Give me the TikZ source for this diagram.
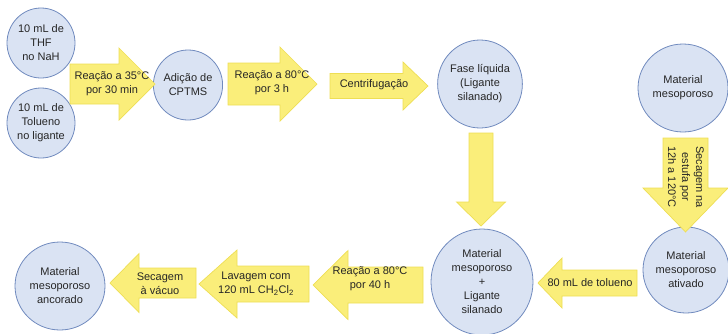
\documentclass[tikz,border=0pt]{standalone}
\usepackage{fontspec}
\setmainfont{Liberation Sans}
\definecolor{stagefill}{RGB}{218, 227, 243}
\definecolor{stageedge}{RGB}{112, 138, 190}
\definecolor{arrowfill}{RGB}{250, 238, 122}
\definecolor{arrowedge}{RGB}{238, 222, 84}
\definecolor{labeltext}{RGB}{38, 38, 38}
\usetikzlibrary{shapes.geometric}

% block arrows: tail, head base, tip, centre line, body half width, head half width
\newcommand{\hblock}[6]{%
  \filldraw[flowarrow] (#1,#4-#5) -- (#2,#4-#5) -- (#2,#4-#6) -- (#3,#4)
    -- (#2,#4+#6) -- (#2,#4+#5) -- (#1,#4+#5) -- cycle;}
\newcommand{\vblock}[6]{%
  \filldraw[flowarrow] (#4-#5,#1) -- (#4-#5,#2) -- (#4-#6,#2) -- (#4,#3)
    -- (#4+#6,#2) -- (#4+#5,#2) -- (#4+#5,#1) -- cycle;}

\begin{document}
\begin{tikzpicture}[x=1pt, y=-1pt,
    stage/.style={ellipse, draw=stageedge, fill=stagefill, line width=0.8pt,
      inner sep=0pt, align=center, text=labeltext, font=\fontsize{11}{14}\selectfont},
    flowarrow/.style={fill=arrowfill, draw=arrowedge, line width=0.7pt},
    steplabel/.style={align=center, inner sep=0pt, text=labeltext,
      font=\fontsize{11}{14}\selectfont}]
                \useasboundingbox (0,0) rectangle (728,333);
                \clip (0,0) rectangle (728,333);

                % Stages
                \node[stage, minimum width=68, minimum height=70] (thf) at (41,43) {10 mL de\\THF\\no NaH};
                \node[stage, minimum width=68, minimum height=70] (tol) at (41,123) {10 mL de\\Tolueno\\no ligante};
                \node[stage, minimum width=64, minimum height=70] (cptms) at (188,85) {Adição de\\CPTMS};
                \node[stage, minimum width=78, minimum height=88] (fase) at (480,84) {Fase líquida\\(Ligante\\silanado)};
                \node[stage, minimum width=90, minimum height=88] (meso) at (683,88) {Material\\mesoporoso};
                \node[stage, minimum width=86, minimum height=86] (ativ) at (686,270) {Material\\mesoporoso\\ativado};
                \node[stage, minimum width=102, minimum height=106] (mix) at (482,282) {Material\\mesoporoso\\+\\Ligante\\silanado};
                \node[stage, minimum width=90, minimum height=88] (anc) at (60,286) {Material\\mesoporoso\\ancorado};

                % Top row, left to right
                \hblock{70}{119}{155}{84}{20}{36}
                \hblock{228}{280}{317}{84}{21}{37}
                \hblock{330}{403}{428}{86}{12.5}{24}

                % Downwards
                \vblock{133}{202}{226}{481}{12}{24.5}
                \vblock{138}{188}{232}{685.5}{22.5}{42.5}

                % Bottom row, right to left
                \hblock{637}{562}{538}{283}{13}{25}
                \hblock{423}{348}{313}{285}{18}{34.5}
                \hblock{309}{237}{199}{284}{18}{34}
                \hblock{196}{139}{110}{283}{15}{29.5}

                % Step labels
                \node[steplabel] (r35) at (112,84) {Reação a 35°C\\por 30 min};
                \node[steplabel] (r80a) at (272,83) {Reação a 80°C\\por 3 h};
                \node[steplabel] (centr) at (374,85) {Centrifugação};
                \node[steplabel, rotate=-90] (estufa) at (686,177) {Secagem na\\estufa por\\12h a 120°C};
                \node[steplabel] (tolu) at (590,283) {80 mL de tolueno};
                \node[steplabel] (r80b) at (370,279) {Reação a 80°C\\por 40 h};
                \node[steplabel] (lav) at (256,284) {Lavagem com\\120 mL CH\textsubscript{2}Cl\textsubscript{2}};
                \node[steplabel] (vac) at (160,284) {Secagem\\à vácuo};
\end{tikzpicture}
\end{document}
